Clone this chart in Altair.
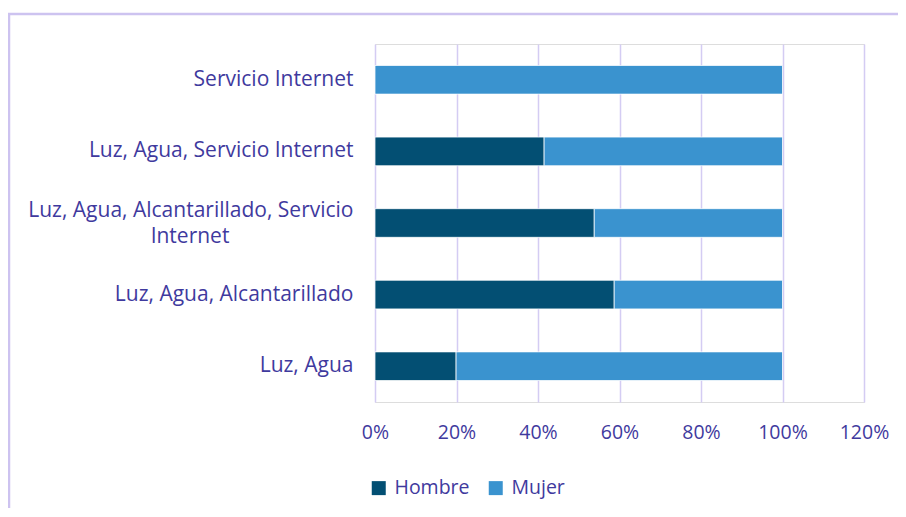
import altair as alt
import pandas as pd

categories = [
    "Servicio Internet",
    "Luz, Agua, Servicio Internet",
    "Luz, Agua, Alcantarillado, Servicio Internet",
    "Luz, Agua, Alcantarillado",
    "Luz, Agua",
]
hombre = [0.0, 0.415, 0.538, 0.587, 0.199]
mujer = [1.0, 0.585, 0.462, 0.413, 0.801]
series = ["Hombre", "Mujer"]
colors = ["#034f73", "#3a93cf"]
tick_values = [0, 0.2, 0.4, 0.6, 0.8, 1.0, 1.2]

rows = []
for c, h, m in zip(categories, hombre, mujer):
    rows.append({"cat": c, "serie": "Hombre", "val": h, "ord": 0})
    rows.append({"cat": c, "serie": "Mujer", "val": m, "ord": 1})
df = pd.DataFrame(rows)

TXT = "#3f3a9e"
GRID = "#d4ccf3"
FRAME = "#cdc3f0"
FONT = "Open Sans"
WRAPPED = "Luz, Agua, Alcantarillado, Servicio Internet"

nb = "\u00a0" * 20 + "\u2800"
label_expr = (
    "datum.value == '" + WRAPPED + "' ? "
    "['Luz, Agua, Alcantarillado, Servicio', 'Internet" + nb + "'] : datum.label"
)

bars = alt.Chart(df).mark_bar(stroke="white", strokeWidth=0.75).encode(
    y=alt.Y(
        "cat:N",
        sort=categories,
        title=None,
        scale=alt.Scale(paddingInner=0.6, paddingOuter=0.3),
        axis=alt.Axis(
            labelExpr=label_expr,
            labelPadding=22,
            labelLimit=500,
            labelFontSize=21,
            labelLineHeight=26,
            labelOffset={
                "condition": {"test": "datum.value == '" + WRAPPED + "'", "value": -12},
                "value": 0,
            },
            labelColor=TXT,
            labelFont=FONT,
            ticks=False,
            domain=False,
            grid=False,
        ),
    ),
    x=alt.X(
        "val:Q",
        stack="zero",
        title=None,
        scale=alt.Scale(domain=[0, 1.2], nice=False),
        axis=alt.Axis(
            values=tick_values,
            format=".0%",
            labelPadding=21,
            labelFontSize=19.5,
            labelColor=TXT,
            labelFont=FONT,
            ticks=False,
            domain=False,
            grid=True,
            gridColor=GRID,
            gridWidth=1.5,
            labelFlush=False,
        ),
    ),
    color=alt.Color(
        "serie:N",
        scale=alt.Scale(domain=series, range=colors),
        legend=alt.Legend(
            title=None,
            orient="none",
            direction="horizontal",
            legendX=-6,
            legendY=434,
            symbolType="square",
            symbolSize=196,
            symbolStrokeWidth=0,
            labelFontSize=19.5,
            labelColor=TXT,
            labelFont=FONT,
            labelOffset=6,
            columnPadding=16,
        ),
    ),
    order=alt.Order("ord:Q"),
)

frame = alt.Chart(pd.DataFrame({"a": [0]})).mark_rect(
    fill=None, stroke=FRAME, strokeWidth=2.5, clip=False
).encode(
    x=alt.value(-366),
    x2=alt.value(3000),
    y=alt.value(-30),
    y2=alt.value(3000),
)

chart = alt.layer(frame, bars).properties(
    width=489,
    height=358,
    autosize=alt.AutoSizeParams(type="none"),
    padding={"left": 367, "top": 36, "right": 34, "bottom": 106},
).configure_view(stroke=None).configure(background="white")

chart.save("out.html", embed_options={"renderer": "svg", "actions": False})
